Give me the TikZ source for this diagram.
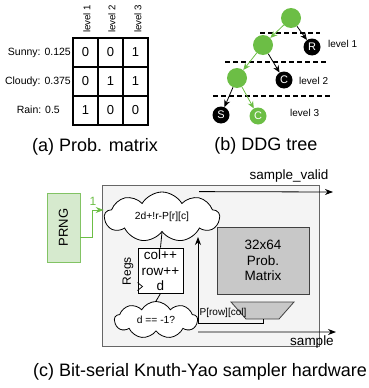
\documentclass[tikz,border=0pt]{standalone}
\usepackage{fontspec}
\setmainfont{Liberation Sans}
\usetikzlibrary{arrows.meta,shapes.symbols}
\definecolor{ggreen}{RGB}{108,190,69}
\definecolor{pfill}{RGB}{214,234,206}
\definecolor{pline}{RGB}{130,195,100}
\definecolor{boxfill}{RGB}{244,244,244}
\definecolor{memfill}{RGB}{200,200,200}
\tikzset{
  cell/.style={draw,line width=1.1pt,minimum width=25pt,minimum height=29pt,inner sep=0pt,font=\fontsize{13}{15}\selectfont},
  rowlab/.style={anchor=east,inner sep=0pt,font=\fontsize{10.5}{12}\selectfont},
  collab/.style={rotate=90,anchor=west,inner sep=0pt,font=\fontsize{9.7}{11}\selectfont},
  gnode/.style={circle,fill=ggreen,minimum size=20pt,inner sep=0pt},
  bnode/.style={circle,fill=black,text=white,minimum size=17pt,inner sep=0pt,font=\fontsize{11}{12}\selectfont},
  gleaf/.style={bnode,fill=ggreen},
  lvl/.style={anchor=west,inner sep=0pt,font=\fontsize{10}{12}\selectfont},
  dline/.style={dashed,dash pattern=on 5pt off 3pt,line width=1.2pt},
  bedge/.style={-{Stealth[length=7pt,width=6pt]},line width=0.8pt},
  gedge/.style={bedge,ggreen},
  captxt/.style={inner sep=0pt,font=\fontsize{18}{20}\selectfont},
  cloudy/.style={cloud,cloud puffs=9,cloud puff arc=120,cloud ignores aspect,draw,line width=0.8pt,fill=white,inner sep=0pt,font=\fontsize{10.3}{12}\selectfont},
  sig/.style={-{Stealth[length=8pt,width=6pt]},line width=0.8pt},
  sml/.style={inner sep=0pt,font=\fontsize{10}{12}\selectfont},
  big/.style={inner sep=0pt,font=\fontsize{13.5}{15.5}\selectfont,align=center}
}

\begin{document}
\begin{tikzpicture}[x=1pt,y=-1pt]
      \useasboundingbox (0,0) rectangle (368,388);
      % (a) probability matrix
      \node[cell] (s1) at (85.5,52.5) {0};
      \node[cell] (s2) at (110.5,52.5) {0};
      \node[cell] (s3) at (135.5,52.5) {1};
      \node[cell] (c1) at (85.5,81.5) {0};
      \node[cell] (c2) at (110.5,81.5) {1};
      \node[cell] (c3) at (135.5,81.5) {1};
      \node[cell] (r1) at (85.5,110.5) {1};
      \node[cell] (r2) at (110.5,110.5) {0};
      \node[cell] (r3) at (135.5,110.5) {0};
      \node[rowlab] (Ls) at (71,53) {Sunny: 0.125};
      \node[rowlab] (Lc) at (71,82) {Cloudy: 0.375};
      \node[rowlab] (Lr) at (60,110) {Rain: 0.5};
      \node[collab] (v1) at (87,33) {level 1};
      \node[collab] (v2) at (112,33) {level 2};
      \node[collab] (v3) at (138,33) {level 3};
      \node[captxt] (ca) at (95,147) {(a) Prob. matrix};

      % (b) DDG tree
      \draw[dline] (260,33) -- (320,33);
      \draw[dline] (225,62) -- (327,62);
      \draw[dline] (213,96) -- (330,96);
      \node[gnode] (rt) at (291,18) {};
      \node[gnode] (n1) at (263,45) {};
      \node[gnode] (n2) at (237,78) {};
      \node[bnode] (R) at (312,47) {R};
      \node[bnode] (C) at (284,80) {C};
      \node[bnode] (S) at (221,115) {S};
      \node[gleaf] (C3) at (258,116) {C};
      \draw[gedge] (rt) -- (n1);
      \draw[gedge] (n1) -- (n2);
      \draw[gedge] (n2) -- (C3);
      \draw[bedge] (rt) -- (R);
      \draw[bedge] (n1) -- (C);
      \draw[bedge] (n2) -- (S);
      \node[lvl] (l1) at (328,44) {level 1};
      \node[lvl] (l2) at (299,81) {level 2};
      \node[lvl] (l3) at (290,113) {level 3};
      \node[captxt] (cb) at (266,146) {(b) DDG tree};

      % (c) sampler hardware
      \draw[draw=gray!80!black,fill=boxfill,line width=0.7pt] (102,185) rectangle (319,346);
      \node[draw=pline,fill=pfill,line width=0.8pt,minimum width=33pt,minimum height=69pt,inner sep=0pt,font=\fontsize{13}{15}\selectfont] (P) at (63.5,227.5) {\rotatebox{90}{PRNG}};
      \node[cloudy,minimum width=115pt,minimum height=50pt] (cl1) at (162,217) {2d+!r-P[r][c]};
      \node[big,draw,line width=1pt,fill=white,minimum width=45pt,minimum height=45pt] (rg) at (160.5,270.5) {col++\\row++\\d};
      \node[sml,font=\fontsize{12}{14}\selectfont] (rl) at (128,271) {\rotatebox{90}{Regs}};
      \node[cloudy,minimum width=83pt,minimum height=37pt] (cl2) at (156,320) {d == -1?};
      \node[big,draw=black!75,fill=memfill,line width=0.8pt,minimum width=92pt,minimum height=67pt] (M) at (263,260.5) {32x64\\Prob.\\Matrix};
      \draw[fill=memfill,draw=black!75,line width=0.8pt] (231,302) -- (294,302) -- (279,319) -- (246,319) -- cycle;
      \coordinate (mx) at (263,319);
      \coordinate (pt) at (198,237);
      \coordinate (sv) at (333,192);
      \coordinate (so) at (336,332);
      \draw[line width=0.8pt] (cl1.south) -- (rg.north);
      \draw[line width=0.8pt] (rg.south) -- (cl2.north);
      \draw[line width=0.7pt] ([yshift=11pt]rg.south west) -- ++(5,4) -- ++(-5,4);
      \draw[sig,ggreen] ([yshift=-9.5pt]P.east) -- ++(12,0) |- ([yshift=7pt]cl1.west);
      \node[sml,text=ggreen,font=\fontsize{12}{14}\selectfont] (one) at (93,201) {1};
      \draw[sig] (mx) -- ++(0,4) -| (pt);
      \draw[sig] ([xshift=37pt]cl1.north) -- (sv);
      \draw[sig] ([yshift=-12pt]cl2.east) -- (so);
      \node[sml] (pl) at (223,313) {P[row][col]};
      \node[sml,font=\fontsize{13.5}{15}\selectfont] (svl) at (289,176) {sample\_valid};
      \node[sml,font=\fontsize{13.5}{15}\selectfont] (sol) at (312,342) {sample};
      \node[captxt] (cc) at (200,372) {(c) Bit-serial Knuth-Yao sampler hardware};
    \end{tikzpicture}
\end{document}
